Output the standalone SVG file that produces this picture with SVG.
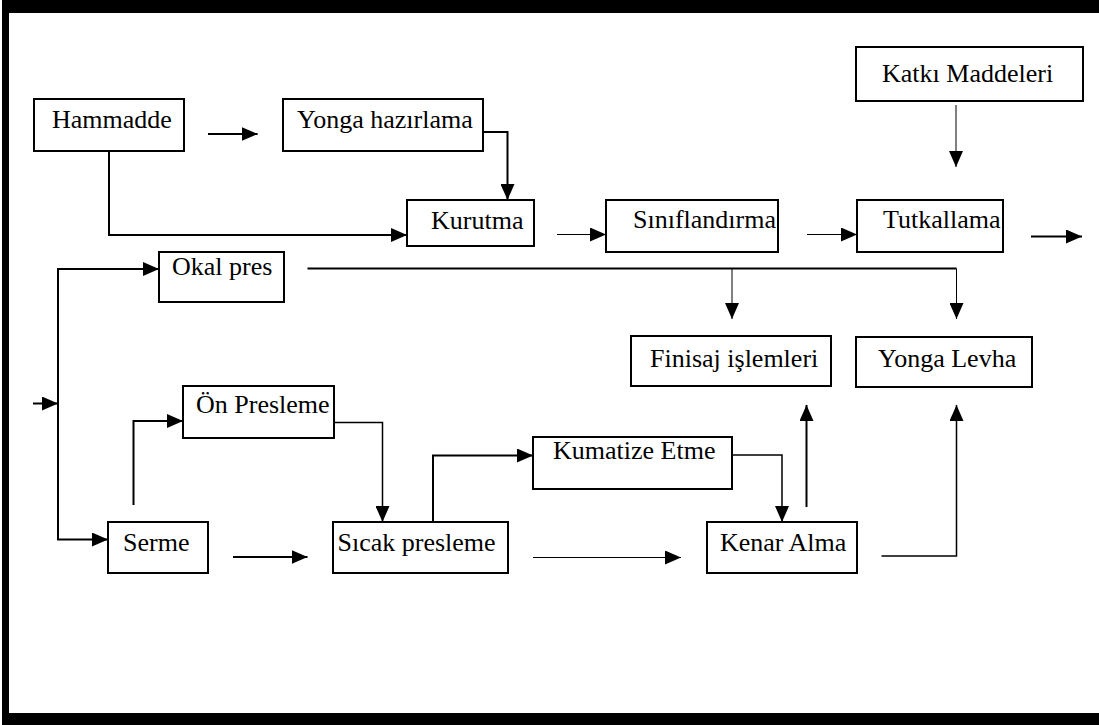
<svg xmlns="http://www.w3.org/2000/svg" width="1099" height="725" viewBox="0 0 1099 725">
<defs>
<style>
.box{fill:#fff;stroke:#000;stroke-width:2}
.t{font-family:"Liberation Serif","Times New Roman",serif;font-size:26px;fill:#000}
.c{fill:none;stroke:#000;marker-end:url(#ah)}
.w2{stroke-width:2}
.w15{stroke-width:1.5}
.w1{stroke-width:1}
.nm{marker-end:none}
</style>
<marker id="ah" markerUnits="userSpaceOnUse" markerWidth="16" markerHeight="14" refX="16" refY="7" orient="auto" viewBox="0 0 16 14">
<path d="M0,0 L16,7 L0,14 Z" fill="#000"/>
</marker>
</defs>
<rect width="1099" height="725" fill="#fff"/>
<g id="frame" fill="#000">
<rect x="2" y="0" width="1097" height="13"/>
<rect x="2" y="0" width="7" height="725"/>
<rect x="2" y="713" width="1097" height="12"/>
</g>
<g id="connectors">
<path class="c w2" d="M208,134 H257.6"/>
<path class="c w2" d="M483,132 H507.5 V200"/>
<path class="c w2" d="M109,151 V235 H407"/>
<path class="c w1" d="M557,234.5 H606"/>
<path class="c w1" d="M807,234.5 H857"/>
<path class="c w2" d="M1031,236.5 H1082"/>
<path class="c w1" d="M956,105 V167"/>
<path class="c w2 nm" d="M307.5,268.5 H956.5"/>
<path class="c w1" d="M732,268.5 V319"/>
<path class="c w1" d="M956.5,268.5 V319"/>
<path class="c w2" d="M33,403.5 H58"/>
<path class="c w2" d="M58,404 V269 H159"/>
<path class="c w2" d="M58,404 V539.5 H108"/>
<path class="c w2" d="M133.5,505 V421 H183"/>
<path class="c w15" d="M334,422.5 H382.5 V522"/>
<path class="c w2" d="M433,522 V455.5 H533"/>
<path class="c w15" d="M732,455 H782 V522"/>
<path class="c w2" d="M806.5,507 V405"/>
<path class="c w15" d="M881.5,556 H956.5 V405"/>
<path class="c w2" d="M233,557 H307.5"/>
<path class="c w1" d="M533,557.5 H681"/>
</g>
<g id="n-hammadde"><rect class="box" x="34" y="99" width="150" height="52"/><text class="t" x="52" y="128">Hammadde</text></g>
<g id="n-yonga-hazirlama"><rect class="box" x="283" y="99" width="200" height="52"/><text class="t" x="297" y="128">Yonga hazırlama</text></g>
<g id="n-katki"><rect class="box" x="856" y="47" width="227" height="54"/><text class="t" x="882" y="82">Katkı Maddeleri</text></g>
<g id="n-kurutma"><rect class="box" x="407" y="200" width="127" height="46"/><text class="t" x="431" y="229">Kurutma</text></g>
<g id="n-siniflandirma"><rect class="box" x="606" y="200" width="172" height="52"/><text class="t" x="633" y="228">Sınıflandırma</text></g>
<g id="n-tutkallama"><rect class="box" x="857" y="200" width="146" height="52"/><text class="t" x="883" y="228">Tutkallama</text></g>
<g id="n-okal"><rect class="box" x="159" y="252" width="125" height="50"/><text class="t" x="172" y="275">Okal pres</text></g>
<g id="n-finisaj"><rect class="box" x="631" y="336" width="200" height="50"/><text class="t" x="650" y="367">Finisaj işlemleri</text></g>
<g id="n-yonga-levha"><rect class="box" x="856" y="337" width="176" height="50"/><text class="t" x="878" y="367">Yonga Levha</text></g>
<g id="n-on-presleme"><rect class="box" x="183" y="386" width="151" height="52"/><text class="t" x="196" y="413">Ön Presleme</text></g>
<g id="n-kumatize"><rect class="box" x="533" y="437" width="199" height="52"/><text class="t" x="553" y="459">Kumatize Etme</text></g>
<g id="n-serme"><rect class="box" x="108" y="522" width="100" height="51"/><text class="t" x="123" y="551">Serme</text></g>
<g id="n-sicak"><rect class="box" x="333" y="522" width="175" height="51"/><text class="t" x="337.5" y="551">Sıcak presleme</text></g>
<g id="n-kenar"><rect class="box" x="707" y="522" width="150" height="51"/><text class="t" x="720" y="551">Kenar Alma</text></g>
</svg>
